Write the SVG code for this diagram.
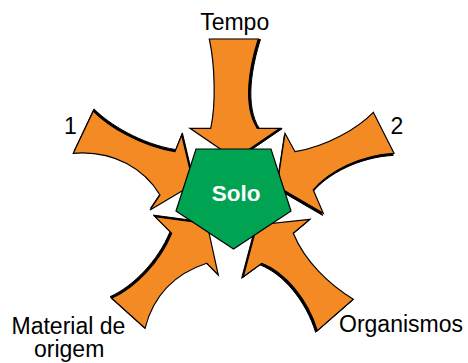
<svg xmlns="http://www.w3.org/2000/svg" xmlns:xlink="http://www.w3.org/1999/xlink" width="468" height="363" viewBox="0 0 468 363">
<style>
.shadow{fill:#000;stroke:#000;stroke-width:1}
.arrow{fill:#F38A24;stroke:#000;stroke-width:1.2;stroke-linejoin:miter}
.label{font-family:"Liberation Sans",Arial,sans-serif;font-size:23px;fill:#000}
.core{fill:#00A352;stroke:#000;stroke-width:1.2}
.core-text{font-family:"Liberation Sans",Arial,sans-serif;font-size:22.5px;font-weight:bold;fill:#fff}
</style>
<defs>
<path id="a-tempo" d="M209.3,39 L258.3,39 C250,65 242,105 257.3,128.3 L280,128.3 L235,159 L190,128.3 L210.7,128.3 C216,105 215,65 209.3,39 Z"/>
<path id="a-1" d="M93.3,111 C108,126 140,146 175,151.7 L181.7,135 L193.4,184.2 L150,210 L160,195 C145,170 115,150 73.3,153.3 Z"/>
<path id="a-2" d="M373.3,112.3 C358,128 328,146 295,151.7 L285,133.3 L277,186.3 L323.3,213.3 L313.3,190 C328,172 360,155 394,153.3 Z"/>
<path id="a-mat" d="M111.7,298.3 C135,288 160,262 171.7,233.3 L155,216.7 L207,223.7 L218.3,275 L206.7,263.3 C180,272 155,290 145,328.3 Z"/>
<path id="a-org" d="M353.3,299.3 C330,285 305,262 293.3,233.3 L310,219.3 L257,225 L243.3,276.7 L261.7,263.3 C285,272 308,300 317.3,330.7 Z"/>
</defs>
<g id="connectors">
<use xlink:href="#a-tempo" class="shadow" transform="translate(2.2,0.4)"/>
<use xlink:href="#a-tempo" class="arrow"/>
<use xlink:href="#a-1" class="shadow" transform="translate(0.7,-2.1)"/>
<use xlink:href="#a-1" class="arrow"/>
<use xlink:href="#a-2" class="shadow" transform="translate(-0.7,2.1)"/>
<use xlink:href="#a-2" class="arrow"/>
<use xlink:href="#a-mat" class="shadow" transform="translate(-1.7,-1.6)"/>
<use xlink:href="#a-mat" class="arrow"/>
<use xlink:href="#a-org" class="shadow" transform="translate(-1.7,1.6)"/>
<use xlink:href="#a-org" class="arrow"/>
</g>
<g id="node-solo">
<polygon class="core" points="196,149 271,149 291,211 233.5,249 176,211"/>
<text class="core-text" x="236" y="201" text-anchor="middle">Solo</text>
</g>
<g id="node-tempo">
<text class="label" x="234.7" y="30" text-anchor="middle">Tempo</text>
</g>
<g id="node-1">
<text class="label" x="64" y="133.5">1</text>
</g>
<g id="node-2">
<text class="label" x="390.5" y="134">2</text>
</g>
<g id="node-material">
<text class="label" x="11.5" y="333.5">Material de</text>
<text class="label" x="34" y="357">origem</text>
</g>
<g id="node-organismos">
<text class="label" x="339" y="332">Organismos</text>
</g>
</svg>
